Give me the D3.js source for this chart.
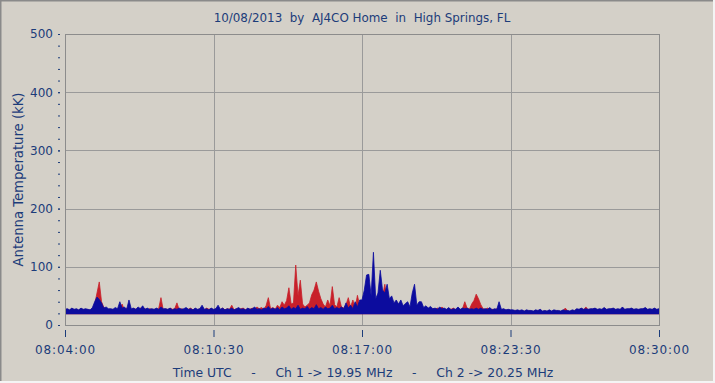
<!DOCTYPE html>
<html><head><meta charset="utf-8">
<script src="https://cdn.jsdelivr.net/npm/d3@7"></script>
<style>
html,body{margin:0;padding:0;background:#d4d0c8;}
svg{display:block;}
text{font-family:"DejaVu Sans",Verdana,sans-serif;fill:#1c3c7a;}
</style></head>
<body>
<script>
// ---- data ----
const titleText = "10/08/2013  by  AJ4CO Home  in  High Springs, FL";
const xAxisTitle = "Time UTC     -     Ch 1 -> 19.95 MHz     -     Ch 2 -> 20.25 MHz";
const yAxisTitle = "Antenna Temperature (kK)";
const startTime = "2013-10-08T08:04:00Z";
const endTime = "2013-10-08T08:30:00Z";
const sampleStepSec = 6;           // one value per 6-second bucket (bucket maximum)
const noiseFloor = 18.5;           // lower edge of the noise band (kK)
const xTickLabels = ["08:04:00","08:10:30","08:17:00","08:23:30","08:30:00"];
const yTickValues = [0,100,200,300,400,500];
// Ch 1 (19.95 MHz, red)
const ch1 = [
26,27,25,28,26,27,25,28,26,27,26,25,28,36,55,74,40,30,28,26,
27,26,25,28,27,36,26,29,27,26,28,27,26,29,27,28,25,28,27,26,
27,28,47,26,28,26,29,27,28,38,26,28,26,28,27,29,26,28,26,28,
27,26,29,27,28,25,28,27,26,29,26,28,27,34,26,28,26,28,29,26,
28,27,29,26,31,28,30,27,33,47,28,30,27,34,30,40,34,42,64,36,
38,103,50,77,36,31,34,38,52,60,74,58,45,36,31,43,33,66,35,31,
47,31,29,35,47,31,43,29,51,33,29,31,28,31,29,33,38,35,45,50,
70,40,36,31,33,29,31,28,30,27,31,28,27,29,26,28,27,26,28,26,
26,28,27,29,26,31,27,26,28,27,29,26,27,26,28,40,29,27,36,42,
53,45,35,28,27,29,26,27,26,28,27,26,27,25,26,25,25,24,25,24,
25,23,25,24,24,23,25,24,26,23,24,23,25,23,25,24,24,23,25,29,
24,23,25,24,27,26,28,26,31,26,27,27,28,26,27,26,29,26,27,27,
28,26,27,26,30,26,27,27,28,26,27,26,27,27,29,26,27,26,28,26,
27];
// Ch 2 (20.25 MHz, blue)
const ch2 = [
27,28,26,29,27,28,26,29,27,28,27,26,30,40,48,44,38,29,31,28,
28,27,30,28,40,29,31,27,43,28,29,27,31,28,33,27,29,27,28,27,
29,27,31,28,28,27,29,26,28,27,29,27,28,30,27,28,26,29,27,28,
34,27,28,26,29,27,28,34,27,29,26,28,27,29,26,28,30,27,28,26,
29,27,28,31,27,28,26,29,28,32,27,29,27,30,26,31,28,29,33,27,
30,28,34,27,29,28,32,27,30,28,35,28,30,27,31,28,29,34,28,30,
28,31,28,38,29,34,28,40,31,43,43,60,86,87,50,125,45,55,94,60,
55,70,45,50,38,43,36,43,33,37,40,31,55,70,34,40,40,30,33,29,
32,28,29,27,31,28,29,27,30,26,28,27,31,27,29,28,29,27,28,27,
29,27,29,27,28,27,30,26,28,27,40,27,28,26,27,26,26,25,26,25,
26,24,26,25,25,24,26,25,27,24,25,24,26,24,26,25,25,24,26,25,
25,24,26,25,28,27,29,27,28,27,28,28,29,27,28,27,30,27,28,28,
29,27,28,27,31,27,28,28,29,27,28,27,28,28,30,27,28,27,29,27,
28];
const seriesColors = ["#c8202a","#0c0c9e"];

// ---- layout ----
const W = 715, H = 383;
const M = {left:65, top:34, right:56, bottom:58};
const pw = W - M.left - M.right, ph = H - M.top - M.bottom;

const svg = d3.select("body").append("svg").attr("width", W).attr("height", H);
svg.append("rect").attr("width", W).attr("height", H).attr("fill", "#d4d0c8");
// window frame
svg.append("line").attr("x1",0).attr("y1",0.5).attr("x2",W).attr("y2",0.5).attr("stroke","#8a8a8a").attr("stroke-width",2);
svg.append("line").attr("x1",0.5).attr("y1",0).attr("x2",0.5).attr("y2",H).attr("stroke","#8a8a8a").attr("stroke-width",2);
svg.append("line").attr("x1",W-1).attr("y1",0).attr("x2",W-1).attr("y2",H).attr("stroke","#f4f4f4").attr("stroke-width",2);
svg.append("line").attr("x1",0).attr("y1",H-1).attr("x2",W).attr("y2",H-1).attr("stroke","#f4f4f4").attr("stroke-width",2);

const t0 = new Date(startTime), t1 = new Date(endTime);
const x = d3.scaleUtc().domain([t0, t1]).range([M.left, M.left + pw]);
const y = d3.scaleLinear().domain([0, 500]).range([M.top + ph, M.top]);

const majorTimes = xTickLabels.map(s => new Date("2013-10-08T" + s + "Z"));
const minorTimes = d3.utcSecond.every(65).range(t0, new Date(+t1 + 1000)).filter(d => ((d - t0) / 1000) % 65 === 0);
const minorY = d3.range(0, 501, 20);

// grid
const g = svg.append("g");
g.selectAll(".vg").data(majorTimes.slice(1, -1)).join("line")
  .attr("x1", d => Math.round(x(d)) + 0.5).attr("x2", d => Math.round(x(d)) + 0.5)
  .attr("y1", M.top).attr("y2", M.top + ph).attr("stroke", "#9a9a9a").attr("stroke-width", 1);
g.selectAll(".hg").data(yTickValues.slice(1, -1)).join("line")
  .attr("x1", M.left).attr("x2", M.left + pw)
  .attr("y1", d => Math.round(y(d)) + 0.5).attr("y2", d => Math.round(y(d)) + 0.5)
  .attr("stroke", "#9a9a9a").attr("stroke-width", 1);

// series: each 6-s bucket from the noise floor up to its maximum
svg.append("clipPath").attr("id","clip").append("rect")
  .attr("x", M.left + 1).attr("y", M.top).attr("width", pw - 1).attr("height", ph);
const tOf = i => new Date(+t0 + i * sampleStepSec * 1000);
const area = d3.area().curve(d3.curveLinear)
  .x((d, i) => x(tOf(i))).y0(y(noiseFloor)).y1(d => y(d));
const line = d3.line().curve(d3.curveLinear)
  .x((d, i) => x(tOf(i))).y(d => y(d));
[ch1, ch2].forEach((s, k) => {
  const gs = svg.append("g").attr("clip-path","url(#clip)");
  gs.append("path").attr("d", area(s)).attr("fill", seriesColors[k]);
  gs.append("path").attr("d", line(s)).attr("fill", "none")
    .attr("stroke", seriesColors[k]).attr("stroke-width", 0.8);
});

// plot border
svg.append("rect").attr("x", M.left + 0.5).attr("y", Math.round(M.top) + 0.5)
  .attr("width", pw).attr("height", ph).attr("fill", "none").attr("stroke", "#8c8c8c");

// y axis
const axisColor = "#1c3c7a";
const yMinor = svg.append("g").attr("transform", `translate(${M.left - 5},0)`)
  .call(d3.axisLeft(y).tickValues(minorY).tickSize(2).tickFormat(""));
const yMajor = svg.append("g").attr("transform", `translate(${M.left - 5},0)`)
  .call(d3.axisLeft(y).tickValues(yTickValues).tickSize(2).tickPadding(5));
[yMinor, yMajor].forEach(a => {
  a.select(".domain").remove();
  a.selectAll("line").attr("stroke", axisColor);
  a.selectAll("text").attr("font-size", 12).attr("fill", axisColor).attr("font-family", null);
});

// x axis
const xMinor = svg.append("g").attr("transform", `translate(0,${M.top + ph + 6})`)
  .call(d3.axisBottom(x).tickValues(minorTimes).tickSize(3).tickFormat(""));
const xMajor = svg.append("g").attr("transform", `translate(0,${M.top + ph + 5})`)
  .call(d3.axisBottom(x).tickValues(majorTimes).tickSize(7).tickPadding(8)
    .tickFormat((d, i) => xTickLabels[i]));
[xMinor, xMajor].forEach(a => {
  a.select(".domain").remove();
  a.selectAll("line").attr("stroke", axisColor);
  a.selectAll("text").attr("font-size", 12).attr("fill", axisColor).attr("font-family", null)
    .attr("letter-spacing", "0.9px");
});

// titles
svg.append("text").attr("x", M.left + pw / 2).attr("y", 22).attr("text-anchor", "middle")
  .attr("font-size", 11.9).style("white-space", "pre").text(titleText);
svg.append("text").attr("x", M.left + pw / 2 + 1).attr("y", 377).attr("text-anchor", "middle")
  .attr("font-size", 12.4).style("white-space", "pre").text(xAxisTitle);
svg.append("text").attr("transform", `translate(23,${M.top + ph / 2}) rotate(-90)`)
  .attr("text-anchor", "middle").attr("font-size", 13.2).text(yAxisTitle);
</script>
</body></html>
